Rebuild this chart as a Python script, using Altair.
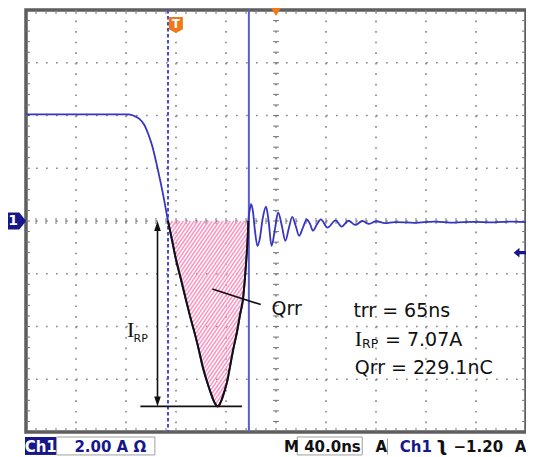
import numpy as np
import pandas as pd
import altair as alt

# ---------------- scope settings ----------------
T_DIV = 40.0          # ns / div  (M 40.0ns)
I_DIV = 2.0           # A / div   (Ch1 2.00 A)
N_HDIV, N_VDIV = 10, 8
T_MAX = T_DIV * N_HDIV            # 400 ns across the screen
I_MAX = I_DIV * N_VDIV / 2        # +/- 8 A, ground at the centre line

W, H = 500, 422                   # graticule size in px

# ---------------- Ch1 current trace ----------------
trace_t = [0.0, 26.8, 82.1, 86.8, 90.7, 94.7, 97.8, 101.0, 104.1, 107.3, 110.5, 113.6,
           116.8, 119.9, 123.9, 127.8, 131.0, 134.7, 138.1, 141.2, 144.4, 147.5, 149.9,
           151.5, 153.1, 154.6, 156.2, 158.6, 161.0, 163.3, 165.7, 168.8, 171.2, 173.6,
           175.1, 176.3, 177.3, 177.9,
           179.1, 180.1, 181.5, 183.0, 185.2, 187.0, 189.3, 192.0, 194.1, 196.4, 199.2,
           201.7, 204.7, 207.5, 210.3, 213.0, 215.8, 218.5, 221.7, 224.6, 227.2, 229.6,
           232.7, 235.9, 241.2, 247.7, 252.5, 258.0, 263.5, 269.0, 274.6, 280.1, 287.2,
           295.1, 310.9, 326.6, 342.4, 358.2, 374.0, 389.7, 400.0]
trace_i = [4.04, 4.04, 4.04, 3.98, 3.87, 3.64, 3.30, 2.84, 2.24, 1.55, 0.80, 0.00,
           -0.72, -1.44, -2.20, -2.96, -3.56, -4.21, -4.85, -5.50, -6.03, -6.48, -6.79,
           -6.94, -7.03, -6.98, -6.82, -6.48, -6.07, -5.50, -4.89, -4.21, -3.56, -2.96,
           -2.20, -1.44, -0.68, 0.00,
           0.45, 0.64, 0.38, -0.30, -0.95, -0.68, 0.08, 0.54, 0.00, -0.94, -0.30,
           0.33, -0.19, -0.75, -0.27, 0.16, -0.19, -0.56, -0.23, 0.06, -0.11, -0.37,
           -0.13, 0.06, -0.25, 0.02, -0.21, 0.01, -0.15, 0.00, -0.11, -0.01, -0.08,
           -0.04, -0.07, -0.02, -0.06, -0.03, -0.05, -0.02, -0.04]

# reverse-recovery window (zero crossings) and cursors
t_rr_start, t_rr_end = 113.6, 177.9
t_cursor_a, t_cursor_b = 113.6, 178.3
t_trigger_pos = 200.0
t_T_marker = 119.9
i_trig_level = -1.20

# annotation texts
txt_trr = "trr = 65ns"
txt_irp = "= 7.07A"
txt_qrr = "Qrr = 229.1nC"

# ---------------- derived tables ----------------
kx = W / T_MAX
ky = H / (2 * I_MAX)
trace = pd.DataFrame({"t": trace_t, "i": trace_i})
rec = trace[(trace.t >= t_rr_start) & (trace.t <= t_rr_end)].reset_index(drop=True)
i_peak = float(rec.i.min())

xscale = alt.Scale(domain=[0, T_MAX], nice=False, zero=False)
yscale = alt.Scale(domain=[-I_MAX, I_MAX], nice=False, zero=False)
X = alt.X("t:Q", scale=xscale, axis=None)
Y = alt.Y("i:Q", scale=yscale, axis=None)
X2 = alt.X2("t2:Q")
Y2 = alt.Y2("i2:Q")


def rules(df, **kw):
    return alt.Chart(df).mark_rule(**kw).encode(x=X, x2=X2, y=Y, y2=Y2)


def label(rows, **kw):
    df = pd.DataFrame(rows, columns=["t", "i", "s"])
    return alt.Chart(df).mark_text(**kw).encode(x=X, y=Y, text="s:N")


def rect(rows, **kw):
    df = pd.DataFrame(rows, columns=["t", "t2", "i", "i2"])
    return alt.Chart(df).mark_rect(**kw).encode(x=X, x2=X2, y=Y, y2=Y2)


def symbol(rows, shape, size, color):
    df = pd.DataFrame(rows, columns=["t", "i"])
    return alt.Chart(df).mark_point(shape=shape, size=size, filled=True, color=color,
                                    opacity=1, strokeWidth=0).encode(x=X, y=Y)


# graticule dotted lines
gv = pd.DataFrame({"t": np.arange(1, N_HDIV) * T_DIV})
gv["t2"] = gv.t
gv["i"] = I_MAX
gv["i2"] = -I_MAX
gh = pd.DataFrame({"i": (np.arange(1, N_VDIV) - N_VDIV / 2) * I_DIV})
gh["i2"] = gh.i
gh["t"] = 0.0
gh["t2"] = T_MAX
per_v = (H / N_VDIV) / 5
per_h = (W / N_HDIV) / 5

# minor ticks on the border and on the centre cross
mt = np.arange(1, N_HDIV * 5) * (T_DIV / 5)
mi = np.arange(1, N_VDIV * 5) * (I_DIV / 5) - I_MAX
L = 4.0
tick_rows = []
for t in mt:
    tick_rows += [(t, t, I_MAX, I_MAX - L / ky), (t, t, -I_MAX, -I_MAX + L / ky),
                  (t, t, -3 / ky, 3 / ky)]
for i in mi:
    tick_rows += [(0, L / kx, i, i), (T_MAX, T_MAX - L / kx, i, i),
                  (T_MAX / 2 - 3 / kx, T_MAX / 2 + 3 / kx, i, i)]
ticks = pd.DataFrame(tick_rows, columns=["t", "t2", "i", "i2"])

# hatch of the Qrr area (derived from the recovery part of the trace)
Xc = rec.t.values * kx
Yc = -rec.i.values * ky
xs = np.linspace(Xc[0], Xc[-1], 4000)
yc = np.interp(xs, Xc, Yc)
slope, gap = 1.45, 3.6
hatch_rows = []
for c in np.arange(slope * Xc[0] + 1.5, slope * Xc[-1] + Yc.max(), gap * slope):
    yy = c - slope * xs
    ins = (yy >= 0) & (yy <= yc)
    if ins.sum() < 2:
        continue
    xa, xb = xs[ins].min(), xs[ins].max()
    hatch_rows.append((xa / kx, xb / kx, -(c - slope * xa) / ky, -(c - slope * xb) / ky))
hatch = pd.DataFrame(hatch_rows, columns=["t", "t2", "i", "i2"])

# cursors
cur_a = pd.DataFrame({"t": [t_cursor_a], "t2": [t_cursor_a], "i": [I_MAX], "i2": [-I_MAX]})
cur_b = pd.DataFrame({"t": [t_cursor_b], "t2": [t_cursor_b], "i": [I_MAX], "i2": [-I_MAX]})

# annotation lines
t_arrow = 105.2
ann = pd.DataFrame([
    (t_arrow, t_arrow, -0.3, i_peak + 0.3),          # I_RP arrow shaft
    (91.5, 172.8, i_peak, i_peak),                     # peak level line
    (149.1, 187.8, -2.58, -3.17),                      # Qrr pointer
], columns=["t", "t2", "i", "i2"])

NAVY = "#17178c"
ORANGE = "#f07818"
BLUE = "#3636c2"
SANS = "DejaVu Sans"

layers = [
    rules(gv, color="#8a8a8a", strokeWidth=1.7, strokeDash=[1.7, per_v - 1.7]),
    rules(gh, color="#8a8a8a", strokeWidth=1.7, strokeDash=[1.7, per_h - 1.7]),
    rules(ticks, color="#777777", strokeWidth=1),
    rules(hatch, color="#ff94c0", strokeWidth=1.5),
    rules(cur_a, color="#4b4bd0", strokeWidth=2, strokeDash=[3.5, 2.5]),
    rules(cur_b, color="#5c5cd2", strokeWidth=2),
    alt.Chart(trace).mark_line(color=BLUE, strokeWidth=1.8, interpolate="monotone").encode(x=X, y=Y),
    alt.Chart(rec).mark_line(color="#111111", strokeWidth=2, interpolate="monotone").encode(x=X, y=Y),
    rules(ann, color="#111111", strokeWidth=1.6),
    symbol([(t_arrow, 0.0)], "M0,0 L-1,3 L1,3 Z", 44, "#111111"),
    symbol([(t_arrow, i_peak)], "M0,0 L-1,-3 L1,-3 Z", 44, "#111111"),
    # channel-1 ground marker, trigger markers
    symbol([(-8.3, 0.0)], "M-1,-0.8 L0.35,-0.8 L1,0 L0.35,0.8 L-1,0.8 Z", 441, NAVY),
    label([(-10.4, 0.0, "1")], font=SANS, fontSize=14, fontWeight="bold", color="white",
          align="center", baseline="middle"),
    symbol([(t_T_marker, 7.43)], "M-1,-1.14 L1,-1.14 L1,0.6 L0,1.14 L-1,0.6 Z", 196, ORANGE),
    label([(t_T_marker, 7.47, "T")], font=SANS, fontSize=12, fontWeight="bold", color="white",
          align="center", baseline="middle"),
    symbol([(t_trigger_pos, 7.92)], "M-1,-0.8 L1,-0.8 L0,0.8 Z", 100, ORANGE),
    symbol([(395.3, i_trig_level)],
           "M-1,0 L-0.1,-0.75 L-0.1,-0.25 L1,-0.25 L1,0.25 L-0.1,0.25 L-0.1,0.75 Z", 169, NAVY),
    # annotation text
    label([(80.7, -4.40, "I"), (263.0, -4.75, "I")], font="Liberation Serif", fontSize=22,
          color="#111111", align="left", baseline="alphabetic"),
    label([(86.0, -4.58, "RP")], font=SANS, fontSize=11, color="#111111",
          align="left", baseline="alphabetic"),
    label([(268.8, -4.83, "RP")], font=SANS, fontSize=12.5, color="#111111",
          align="left", baseline="alphabetic"),
    label([(196.4, -3.56, "Qrr"), (261.9, -3.65, txt_trr), (287.2, -4.75, txt_irp),
           (263.0, -5.80, txt_qrr)], font=SANS, fontSize=19, color="#111111",
          align="left", baseline="alphabetic"),
    # status bar
    rect([(-0.8, 24.5, -8.19, -8.87)], color=NAVY),
    rect([(24.5, 103.1, -8.19, -8.87), (217.0, 269.0, -8.19, -8.87)],
         fill="white", stroke="#a0a0a0", strokeWidth=1),
    rules(pd.DataFrame([(289.2, 289.2, -8.25, -8.85)], columns=["t", "t2", "i", "i2"]),
          color="#a0a0a0", strokeWidth=1),
    label([(11.8, -8.76, "Ch1")], font=SANS, fontSize=15, fontWeight="bold", color="white",
          align="center", baseline="alphabetic"),
    label([(38.7, -8.76, "2.00 A \u03a9"), (299.0, -8.76, "Ch1")], font=SANS, fontSize=15,
          fontWeight="bold", color=NAVY, align="left", baseline="alphabetic"),
    label([(206.3, -8.76, "M"), (222.5, -8.76, "40.0ns"), (279.5, -8.76, "A"),
           (342.0, -8.76, "\u22121.20"), (391.0, -8.76, "A")],
          font=SANS, fontSize=15, fontWeight="bold", color="#111111",
          align="left", baseline="alphabetic"),
    label([(328.0, -8.72, "\u0285")], font=SANS, fontSize=19, fontWeight="bold",
          color="#111111", align="left", baseline="alphabetic"),
]

chart = alt.layer(*layers).properties(
    width=W, height=H,
    padding={"left": 18, "top": 2, "right": 0, "bottom": 25},
    autosize=alt.AutoSizeParams(type="none"),
    background="white",
).configure_view(stroke="#5e5e5e", strokeWidth=3.5)

chart.save("out.html", embed_options={"renderer": "svg", "actions": False})
